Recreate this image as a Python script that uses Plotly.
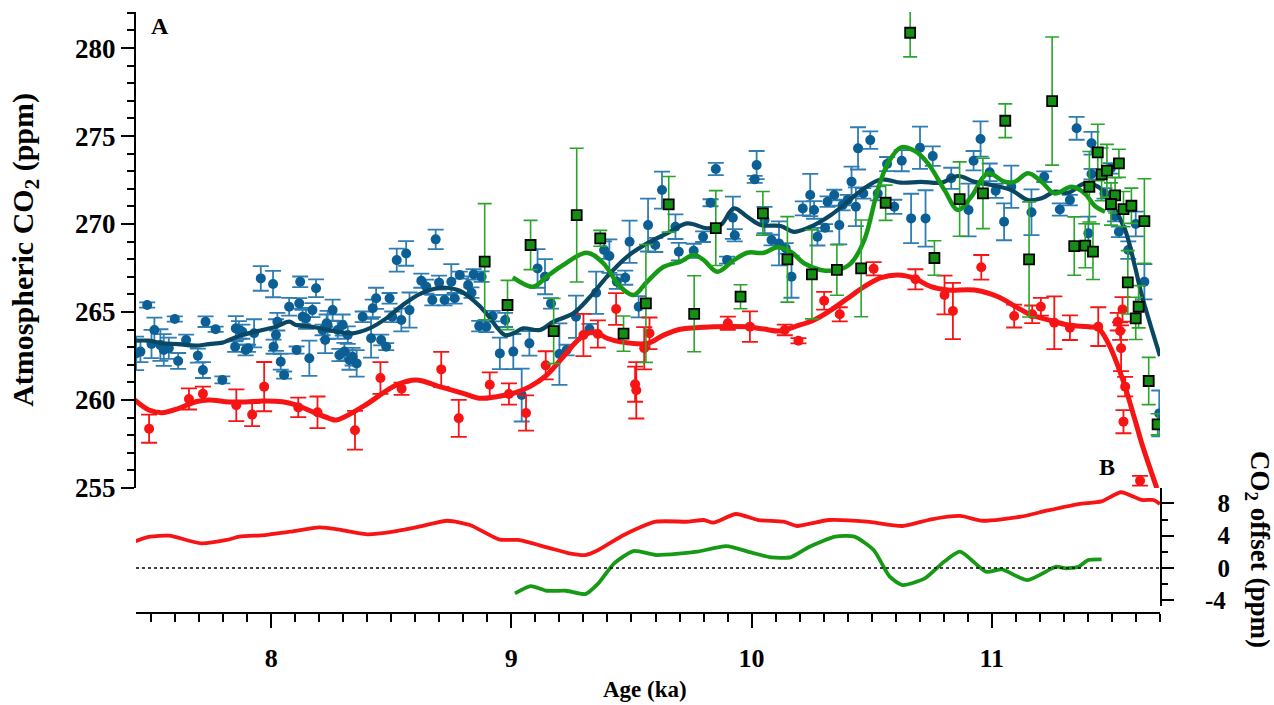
import plotly.graph_objects as go

# ---------------- data (age in ka, CO2 in ppm) ----------------
blue_age = [7.438, 7.456, 7.484, 7.514, 7.502, 7.539, 7.553, 7.574, 7.613, 7.599, 7.646, 7.695, 7.716, 7.727,
            7.769, 7.797, 7.850, 7.853, 7.866, 7.880, 7.894, 7.904, 7.929, 7.957, 8.008, 8.010, 8.020, 8.026,
            8.040, 8.054, 8.075, 8.106, 8.121, 8.117, 8.131, 8.145, 8.159, 8.172, 8.187, 8.214, 8.231,
            8.225, 8.235, 8.256, 8.277, 8.284, 8.298, 8.305, 8.326, 8.339, 8.356, 8.319, 8.381, 8.416, 8.423,
            8.437, 8.458, 8.479, 8.493, 8.504, 8.523, 8.542, 8.562, 8.576, 8.625, 8.646, 8.671, 8.685, 8.699,
            8.722, 8.750, 8.764, 8.785, 8.820, 8.834, 8.843, 8.876, 8.866, 8.896, 8.922, 8.952, 8.974, 9.008,
            9.043, 9.075, 9.109, 9.140, 9.165, 9.200, 9.230, 9.269, 9.325, 9.353, 9.386, 9.408, 9.439, 9.474,
            9.492, 9.530, 9.569, 9.599, 9.627, 9.683, 9.697, 9.759, 9.798, 9.829, 9.851, 9.898, 9.922, 9.930,
            10.013, 10.021, 10.054, 10.083, 10.114, 10.142, 10.166, 10.213, 10.244, 10.260, 10.274, 10.306,
            10.316, 10.344, 10.365, 10.379, 10.400, 10.416, 10.434, 10.443, 10.494, 10.465, 10.525, 10.564,
            10.594, 10.625, 10.664, 10.701, 10.724, 10.754, 10.831, 10.903, 10.924, 10.953, 10.991, 11.016,
            11.051, 11.081, 11.165, 11.218, 11.283, 11.325, 11.353, 11.415, 11.415, 11.402, 11.469, 11.495,
            11.513, 11.529, 11.568, 11.599, 11.635, 11.697]
blue_co2 = [262.65, 262.75, 265.40, 263.98, 263.18, 263.12, 262.84, 262.94, 262.22, 264.60, 263.41, 262.52, 261.70, 264.45,
            264.02, 261.14, 263.03, 264.07, 263.98, 263.88, 262.84, 262.94, 263.79, 266.91, 266.59, 263.03, 263.69, 264.45,
            262.18, 261.42, 265.30, 262.84, 266.72, 265.49, 264.73, 264.64, 262.37, 265.11, 266.35, 263.98, 264.36,
            263.41, 264.26, 265.11, 263.98, 262.56, 264.26, 262.75, 262.27, 262.46, 262.08, 263.69, 264.73, 263.51, 265.21,
            265.78, 263.41, 263.03, 265.78, 264.73, 267.95, 264.55, 268.33, 265.11, 266.78, 266.44, 265.68, 269.13, 266.67,
            265.68, 266.72, 265.78, 267.10, 266.53, 266.10, 267.14, 267.01, 264.20, 264.16, 264.77, 262.65, 264.55, 262.75,
            260.28, 263.22, 267.48, 267.01, 265.49, 262.61, 262.84, 264.73, 264.03, 266.10, 268.52, 268.18, 266.72, 266.95,
            268.99, 265.30, 269.94, 268.81, 271.93, 269.85, 268.43, 268.48, 269.28, 271.21, 273.13, 267.95, 270.36, 269.36,
            272.54, 273.35, 270.23, 269.09, 268.90, 268.62, 267.01, 270.89, 271.65, 270.80, 269.28, 269.79,
            271.27, 271.65, 269.94, 271.08, 271.36, 272.41, 270.98, 274.30, 274.77, 271.74, 271.74, 273.41,
            270.98, 273.60, 270.32, 274.34, 270.32, 273.86, 272.60, 270.80, 273.60, 274.83, 272.94, 271.89,
            270.13, 272.12, 270.67, 272.69, 270.83, 271.36, 275.44, 274.59, 272.84, 269.47, 271.74, 273.16,
            270.45, 269.56, 268.52, 270.00, 266.72, 259.24]
blue_err = [0.95, 0.6, 0.15, 0.7, 0.8, 0.9, 0.9, 0.6, 0.45, 0.15, 0.3, 0.4, 0.45, 0.3,
            0.15, 0.2, 0.3, 0.7, 0.5, 0.4, 0.3, 0.2, 0.8, 0.7, 0.75, 0.4, 0.9, 0.5,
            0.45, 0.2, 0.5, 0.2, 0.3, 0.3, 0.4, 0.6, 1.0, 0.4, 0.5, 0.3, 0.5,
            0.75, 0.8, 0.6, 0.5, 0.35, 0.6, 0.5, 0.55, 0.5, 0.75, 0.5, 0.3, 1.1, 0.5,
            0.6, 0.3, 0.2, 0.3, 0.3, 0.65, 0.65, 0.7, 1.0, 0.4, 0.4, 0.3, 0.55, 0.4,
            0.3, 1.0, 0.3, 0.2, 0.5, 0.3, 0.3, 0.3, 0.3, 0.3, 0.3, 0.9, 0.4, 1.0,
            1.5, 0.7, 1.1, 1.0, 0.3, 1.75, 0.3, 1.2, 0.3, 1.2, 0.5, 0.95, 0.4, 0.4,
            1.2, 0.6, 1.5, 0.4, 1.05, 0.7, 0.5, 0.4, 0.3, 0.2, 0.35, 0.2, 1.2, 0.35,
            0.2, 0.8, 0.75, 0.3, 1.25, 0.3, 1.2, 0.4, 1.2, 0.5, 0.5, 0.2,
            0.3, 0.3, 1.1, 0.3, 0.3, 0.85, 1.1, 1.2, 0.5, 0.3, 0.4, 0.4,
            0.4, 0.6, 1.4, 1.2, 1.6, 0.55, 0.6, 1.5, 0.55, 1.0, 0.5, 0.4,
            1.05, 1.2, 1.3, 0.3, 0.35, 0.3, 0.65, 0.65, 0.3, 0.95, 0.3, 0.3,
            0.3, 0.3, 0.5, 0.7, 1.0, 1.3]

red_age = [7.492, 7.658, 7.716, 7.855, 7.921, 7.971, 8.113, 8.193, 8.349, 8.455, 8.543, 8.708, 8.781, 8.910,
           8.990, 9.061, 9.143, 9.300, 9.360, 9.436, 9.515, 9.520, 9.553, 9.575, 9.901, 9.993, 10.138, 10.195,
           10.302, 10.367, 10.508, 10.682, 10.803, 10.838, 10.956, 11.093, 11.168, 11.204, 11.260, 11.325,
           11.443, 11.524, 11.544, 11.534, 11.538, 11.555, 11.548, 11.617]
red_co2 = [258.37, 260.06, 260.36, 259.70, 259.17, 260.76, 259.58, 259.30, 258.28, 261.25, 260.64, 261.74, 258.96, 260.87,
           260.34, 259.26, 261.97, 263.69, 263.75, 265.17, 260.90, 260.55, 262.94, 263.79, 264.36, 264.17, 263.98, 263.37,
           265.64, 264.87, 267.46, 266.86, 265.97, 265.06, 267.54, 264.77, 264.87, 265.30, 264.39, 264.11,
           264.17, 264.45, 265.15, 263.92, 262.94, 260.76, 258.77, 255.41]
red_err = [0.8, 0.6, 0.4, 0.9, 0.65, 1.4, 0.55, 0.9, 1.1, 0.9, 0.35, 1.0, 1.05, 0.7,
           0.6, 1.0, 0.8, 1.2, 0.77, 0.9, 1.0, 1.6, 1.2, 0.9, 0.38, 0.87, 0.3, 0.15,
           0.5, 0.4, 0.38, 0.57, 1.1, 1.6, 0.7, 0.65, 0.5, 0.5, 1.5, 0.7,
           1.1, 0.5, 0.7, 0.5, 1.3, 0.55, 0.66, 0.28]

green_age = [8.889, 8.984, 9.080, 9.176, 9.272, 9.370, 9.467, 9.560, 9.655, 9.761, 9.851, 9.954, 10.047, 10.149,
             10.251, 10.355, 10.456, 10.558, 10.660, 10.761, 10.866, 10.963, 11.056, 11.155, 11.251, 11.343,
             11.389, 11.421, 11.406, 11.441, 11.457, 11.479, 11.529, 11.513, 11.496, 11.548, 11.581, 11.566,
             11.611, 11.599, 11.635, 11.653, 11.690]
green_co2 = [267.86, 265.40, 268.81, 263.92, 270.51, 269.19, 263.77, 265.49, 271.12, 264.90, 269.77, 265.87, 270.61, 267.99,
             267.14, 267.39, 267.48, 271.21, 280.87, 268.07, 271.42, 271.74, 275.87, 267.99, 276.99, 268.75,
             268.77, 268.43, 272.12, 274.07, 272.82, 273.03, 273.45, 271.63, 271.14, 270.85, 271.04, 266.69,
             265.30, 264.64, 270.17, 261.08, 258.62]
green_err = [3.3, 1.4, 1.4, 1.85, 3.8, 0.45, 1.0, 3.35, 1.58, 2.16, 2.13, 0.68, 1.24, 2.43,
             2.53, 1.44, 2.75, 1.0, 1.37, 0.98, 2.11, 2.0, 0.96, 3.27, 3.64, 1.66,
             1.25, 1.58, 2.0, 1.6, 1.5, 1.5, 0.8, 1.0, 1.2, 1.0, 1.0, 1.8,
             1.2, 1.2, 2.4, 1.34, 0.6]

# smoothed curves (panel A)
red_fit_age = [7.432, 7.491, 7.546, 7.616, 7.686, 7.741, 7.825, 7.894, 7.964, 8.047, 8.103, 8.187, 8.242, 8.270,
               8.381, 8.521, 8.604, 8.701, 8.799, 8.868, 8.938, 9.008, 9.077, 9.147, 9.216, 9.286, 9.342, 9.398,
               9.453, 9.565, 9.634, 9.704, 9.843, 9.982, 10.051, 10.121, 10.177, 10.260, 10.330, 10.400, 10.469,
               10.539, 10.608, 10.678, 10.747, 10.817, 10.928, 11.026, 11.095, 11.165, 11.235, 11.318, 11.402,
               11.443, 11.485, 11.541, 11.596, 11.624, 11.687]
red_fit_co2 = [260.00, 259.43, 259.28, 259.53, 259.90, 260.00, 259.89, 259.89, 259.94, 259.90, 259.72, 259.24, 258.96, 258.86,
               259.62, 260.85, 261.14, 260.76, 260.38, 260.10, 260.19, 260.38, 260.76, 261.42, 262.46, 263.51, 263.88, 263.51,
               263.31, 263.22, 263.69, 264.02, 264.16, 264.16, 264.03, 263.92, 264.16, 264.55, 265.11, 265.78, 266.44,
               266.95, 267.10, 266.91, 266.44, 266.25, 266.25, 265.87, 265.34, 264.83, 264.55, 264.26, 264.16,
               264.07, 263.22, 261.32, 258.86, 257.54, 254.98]

blue_fit_age = [7.432, 7.491, 7.546, 7.616, 7.686, 7.741, 7.797, 7.825, 7.880, 7.964, 8.020, 8.075, 8.103, 8.172,
                8.242, 8.339, 8.409, 8.479, 8.548, 8.618, 8.688, 8.729, 8.785, 8.841, 8.896, 8.938, 8.973, 9.008,
                9.049, 9.119, 9.175, 9.258, 9.328, 9.398, 9.481, 9.565, 9.648, 9.732, 9.815, 9.871, 9.926, 9.982,
                10.038, 10.121, 10.177, 10.260, 10.330, 10.400, 10.469, 10.539, 10.622, 10.706, 10.789, 10.859,
                10.928, 10.998, 11.081, 11.151, 11.207, 11.262, 11.318, 11.387, 11.443, 11.499, 11.555, 11.596,
                11.624, 11.700]
blue_fit_co2 = [263.37, 263.37, 263.22, 263.18, 263.09, 263.18, 263.26, 263.41, 263.69, 263.98, 264.16, 264.45, 264.26, 264.16,
                263.98, 263.79, 264.07, 264.64, 265.40, 266.02, 266.35, 266.38, 266.21, 265.68, 264.93, 264.16, 263.69, 263.79,
                264.07, 263.98, 264.45, 264.93, 265.87, 267.01, 268.14, 268.90, 269.47, 270.04, 269.76, 269.94, 270.89, 270.41,
                269.94, 269.89, 269.56, 269.94, 270.51, 271.27, 272.03, 272.53, 272.35, 272.40, 272.35, 272.73,
                272.40, 272.22, 271.93, 271.36, 271.46, 271.84, 271.78, 272.31, 272.12, 271.18, 269.66, 267.57,
                265.97, 262.50]

green_fit_age = [9.006, 9.091, 9.147, 9.216, 9.314, 9.383, 9.453, 9.509, 9.565, 9.634, 9.704, 9.759, 9.801, 9.857,
                 9.926, 9.982, 10.051, 10.107, 10.163, 10.218, 10.288, 10.358, 10.413, 10.469, 10.525, 10.567,
                 10.622, 10.678, 10.734, 10.803, 10.859, 10.914, 10.984, 11.053, 11.095, 11.151, 11.207, 11.262,
                 11.332, 11.387, 11.429, 11.471]
green_fit_co2 = [266.97, 266.44, 267.01, 267.67, 268.37, 267.77, 266.44, 265.97, 266.72, 267.57, 267.86, 268.24, 267.95, 267.29,
                 267.95, 268.37, 268.37, 268.68, 268.43, 267.77, 267.39, 267.39, 267.77, 269.09, 271.93, 273.45,
                 274.36, 274.16, 273.45, 271.93, 270.80, 271.55, 272.88, 272.40, 272.40, 272.88, 272.40, 271.74,
                 272.12, 271.74, 271.02, 270.70]

# panel B offsets
red_off_age = [7.428, 7.495, 7.575, 7.709, 7.815, 7.868, 7.975, 8.082, 8.202, 8.295, 8.402, 8.508, 8.615, 8.735,
               8.828, 8.948, 9.028, 9.148, 9.241, 9.308, 9.362, 9.468, 9.602, 9.735, 9.801, 9.841, 9.935, 10.028,
               10.134, 10.188, 10.322, 10.481, 10.628, 10.748, 10.868, 10.961, 11.121, 11.228, 11.361, 11.457,
               11.538, 11.624, 11.673, 11.700]
red_off = [3.26, 3.88, 4.00, 3.05, 3.47, 3.88, 4.08, 4.50, 5.03, 4.70, 4.17, 4.50, 5.11, 5.85,
           5.32, 3.55, 3.47, 2.56, 1.82, 1.61, 2.23, 4.08, 5.73, 5.73, 5.94, 5.61, 6.68, 5.94,
           5.73, 5.20, 5.94, 5.73, 5.20, 6.03, 6.44, 5.85, 6.35, 7.09, 7.92, 8.25,
           9.37, 8.42, 8.42, 7.92]
green_off_age = [9.015, 9.081, 9.148, 9.228, 9.308, 9.362, 9.428, 9.508, 9.602, 9.708, 9.775, 9.895, 10.001, 10.081,
                 10.162, 10.241, 10.348, 10.428, 10.508, 10.575, 10.628, 10.721, 10.801, 10.868, 10.975, 11.041,
                 11.148, 11.268, 11.308, 11.361, 11.401, 11.457]
green_off = [-3.13, -2.23, -2.81, -2.81, -3.22, -1.90, 0.58, 2.10, 1.61, 1.82, 2.02, 2.72, 1.90, 1.32,
             1.32, 2.64, 3.88, 3.88, 2.23, -1.07, -2.10, -1.28, 0.78, 2.02, -0.45, -0.17,
             -1.49, 0.16, -0.04, 0.16, 0.99, 1.08]

x_ticks = [8, 9, 10, 11]
y_ticks = [255, 260, 265, 270, 275, 280]
off_ticks = [-4, 0, 4, 8]
off_labels = ["-4", "\u20070", "\u20074", "\u20078"]

# ---------------- styling ----------------
FONT = "Liberation Serif"
BLUE_PT = "#0c5f94"
BLUE_ERR = "#2f7db2"
NAVY = "#0a4763"
RED = "#f71414"
GREEN_PT = "#148f14"
GREEN_LN = "#169a16"
GREEN_ERR = "#2aa52a"

fig = go.Figure()

fig.add_trace(go.Scatter(
    x=blue_age, y=blue_co2, mode="markers",
    marker=dict(color=BLUE_PT, size=10),
    error_y=dict(type="data", array=blue_err, color=BLUE_ERR, thickness=1.8, width=8),
    xaxis="x", yaxis="y", showlegend=False))

fig.add_trace(go.Scatter(
    x=red_age, y=red_co2, mode="markers",
    marker=dict(color=RED, size=10),
    error_y=dict(type="data", array=red_err, color=RED, thickness=1.8, width=8),
    xaxis="x", yaxis="y", showlegend=False))

fig.add_trace(go.Scatter(x=blue_fit_age, y=blue_fit_co2, mode="lines",
                         line=dict(color=NAVY, width=4.2, shape="spline"),
                         xaxis="x", yaxis="y", showlegend=False))
fig.add_trace(go.Scatter(x=red_fit_age, y=red_fit_co2, mode="lines",
                         line=dict(color=RED, width=5, shape="spline"),
                         xaxis="x", yaxis="y", showlegend=False))
fig.add_trace(go.Scatter(x=green_fit_age, y=green_fit_co2, mode="lines",
                         line=dict(color=GREEN_LN, width=4.5, shape="spline"),
                         xaxis="x", yaxis="y", showlegend=False))

fig.add_trace(go.Scatter(
    x=green_age, y=green_co2, mode="markers",
    marker=dict(color=GREEN_PT, size=10, symbol="square", line=dict(color="black", width=1.8)),
    error_y=dict(type="data", array=green_err, color=GREEN_ERR, thickness=1.6, width=7),
    xaxis="x", yaxis="y", showlegend=False))

fig.add_trace(go.Scatter(x=red_off_age, y=red_off, mode="lines",
                         line=dict(color=RED, width=3.8, shape="spline", smoothing=0.6),
                         xaxis="x", yaxis="y2", showlegend=False))
fig.add_trace(go.Scatter(x=green_off_age, y=green_off, mode="lines",
                         line=dict(color=GREEN_LN, width=3.8, shape="spline", smoothing=0.6),
                         xaxis="x", yaxis="y2", showlegend=False))

fig.update_layout(
    width=1274, height=705,
    margin=dict(l=136, r=114, t=12, b=92),
    paper_bgcolor="white", plot_bgcolor="white",
    font=dict(family=FONT, color="black"),
    xaxis=dict(range=[7.4375, 11.70], anchor="free", position=0, showline=True, linecolor="black",
               linewidth=2, ticks="outside", ticklen=14, tickwidth=2, tickcolor="black",
               tickvals=x_ticks, ticktext=[str(v) for v in x_ticks], showgrid=False, zeroline=False,
               tickfont=dict(family=FONT, size=26, color="black", weight="bold"), ticklabelstandoff=8,
               minor=dict(dtick=0.1, tick0=0, ticklen=8, tickwidth=1.5, tickcolor="black", ticks="outside",
                          showgrid=False)),
    yaxis=dict(domain=[0.208, 1.0], range=[255, 282.05], showline=True, linecolor="black", linewidth=2,
               ticks="outside", ticklen=13, tickwidth=2, tickcolor="black", tickvals=y_ticks,
               ticktext=[str(v) for v in y_ticks], showgrid=False, zeroline=False,
               tickfont=dict(family=FONT, size=27, color="black", weight="bold"), ticklabelstandoff=0,
               minor=dict(dtick=1, tick0=0, ticklen=7, tickwidth=1.5, tickcolor="black", ticks="outside",
                          showgrid=False)),
    yaxis2=dict(domain=[0.012, 0.208], range=[-4.67, 9.9], side="right", anchor="x", showline=True,
                linecolor="black", linewidth=2, ticks="outside", ticklen=12, tickwidth=2, tickcolor="black",
                tickvals=off_ticks, ticktext=off_labels, showgrid=False, zeroline=False,
                tickfont=dict(family=FONT, size=25, color="black", weight="bold"), ticklabelstandoff=26,
                minor=dict(dtick=2, tick0=0, ticklen=6, tickwidth=1.5, tickcolor="black", ticks="outside",
                           showgrid=False)),
    shapes=[dict(type="line", xref="paper", x0=0, x1=1, yref="y2", y0=0, y1=0,
                 line=dict(color="black", width=1.5, dash="dot"))],
    annotations=[
        dict(text="Atmospheric CO<sub>2</sub> (ppm)", xref="paper", yref="paper", x=-0.108, y=0.605,
             textangle=-90, showarrow=False, font=dict(family=FONT, size=30, color="black", weight="bold"),
             xanchor="center", yanchor="middle"),
        dict(text="CO<sub>2</sub> offset (ppm)", xref="paper", yref="paper", x=1.0955, y=0.105,
             textangle=90, showarrow=False, font=dict(family=FONT, size=27, color="black", weight="bold"),
             xanchor="center", yanchor="middle"),
        dict(text="Age (ka)", xref="paper", yref="paper", x=0.497, y=-0.128, showarrow=False,
             font=dict(family=FONT, size=23, color="black", weight="bold"), xanchor="center", yanchor="middle"),
        dict(text="A", xref="paper", yref="paper", x=0.0234, y=0.977, showarrow=False,
             font=dict(family=FONT, size=24, color="black", weight="bold"), xanchor="center", yanchor="middle"),
        dict(text="B", xref="paper", yref="paper", x=0.948, y=0.243, showarrow=False,
             font=dict(family=FONT, size=24, color="black", weight="bold"), xanchor="center", yanchor="middle"),
    ],
)

# remove the default 8px page margin so the 1274x705 figure fills the window exactly
fig.write_html("out.html",
               config={"displayModeBar": False},
               post_script="document.body.style.margin='0';document.body.style.overflow='hidden';")
